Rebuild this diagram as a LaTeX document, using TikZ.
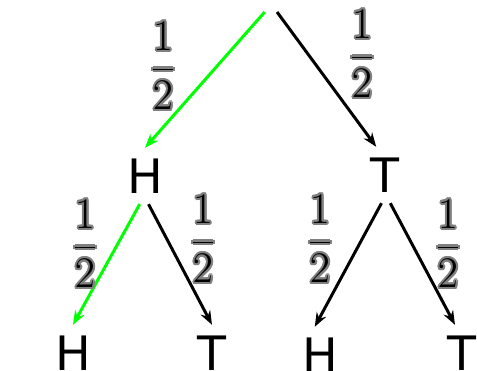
\documentclass[tikz,border=0pt]{standalone}
\usepackage{fontspec}
\setmainfont{DejaVu Sans}
\usepackage{contour}
\usetikzlibrary{arrows.meta}
\contourlength{1.2pt}

\tikzset{
  coin/.style={font=\fontsize{27}{30}\selectfont, inner sep=6pt},
  branch/.style={-{Stealth[length=8pt,width=6pt]}, line width=1.7pt},
  prob/.style={font=\fontsize{23}{26}\selectfont, inner sep=0pt},
}
\newcommand{\halfprob}{\contour{gray}{$\displaystyle\frac{1}{2}$}}

\begin{document}
\begin{tikzpicture}[x=0.02cm, y=-0.02cm]
  \useasboundingbox (0,0) rectangle (477,371);

  % coin outcomes
  \coordinate (root) at (270,12);
  \node[coin] (h1) at (145,176) {H};
  \node[coin] (t1) at (385,175) {T};
  \node[coin] (h2a) at (73,353) {H};
  \node[coin] (t2a) at (212,353) {T};
  \node[coin] (h2b) at (320,355) {H};
  \node[coin] (t2b) at (462,353) {T};

  % branches
  \draw[branch, green] ([xshift=-3pt]root) -- (h1.north);
  \draw[branch] ([xshift=4pt]root) -- ([xshift=-5pt]t1.north);
  \draw[branch, green] ([xshift=-3pt]h1.south) -- (h2a.north);
  \draw[branch] ([xshift=2pt]h1.south) -- (t2a.north);
  \draw[branch] ([xshift=-2pt]t1.south) -- ([xshift=-3pt]h2b.north);
  \draw[branch] ([xshift=3pt]t1.south) -- ([xshift=-4pt]t2b.north);

  % probabilities
  \node[prob] (p1) at (163,67) {\halfprob};
  \node[prob] (p2) at (362,55) {\halfprob};
  \node[prob] (p3) at (85,245) {\halfprob};
  \node[prob] (p4) at (203,240) {\halfprob};
  \node[prob] (p5) at (320,240) {\halfprob};
  \node[prob] (p6) at (448,245) {\halfprob};
\end{tikzpicture}
\end{document}
